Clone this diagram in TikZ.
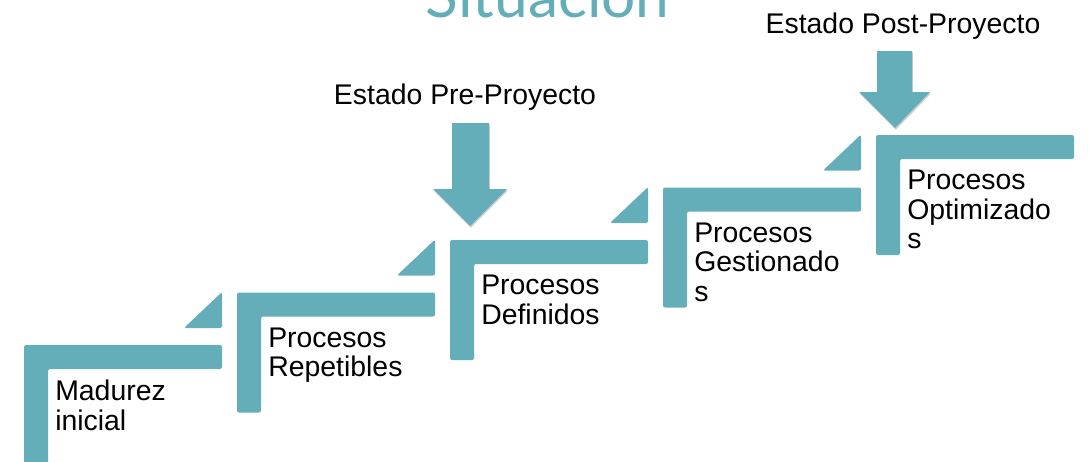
\documentclass[tikz,border=0pt]{standalone}
\usepackage{fontspec}
\setmainfont{Liberation Sans}
\newfontfamily\titlefont{Lato}
\usetikzlibrary{shadows}
\definecolor{stairteal}{RGB}{99, 174, 185}
\definecolor{shadowgray}{RGB}{90, 90, 90}

\begin{document}
\begin{tikzpicture}[x=0.025cm, y=-0.025cm,
        stair/.style={fill=stairteal, rounded corners=1.5pt},
        pointer/.style={fill=stairteal, drop shadow={shadow xshift=0.6pt, shadow yshift=-1.2pt, opacity=0.3, fill=shadowgray}},
        steplabel/.style={anchor=north west, inner sep=0pt, align=left, font=\fontsize{20.2}{21}\selectfont},
        statelabel/.style={anchor=base, inner sep=0pt, font=\fontsize{20.2}{21}\selectfont}]
            \useasboundingbox (0,0) rectangle (1091,461);
            \node[anchor=base, inner sep=0pt, text=stairteal, font=\titlefont\fontsize{43}{46}\selectfont] (titulo) at (547.5,17) {Situación};

            \fill[stair] ( 24,465.0) -- ( 24,345.0) -- ( 222,345.0) -- ( 222,369.0) -- ( 48,369.0) -- ( 48,465.0) -- cycle;
            \fill[stair] (237,412.5) -- (237,292.5) -- ( 435,292.5) -- ( 435,316.5) -- (261,316.5) -- (261,412.5) -- cycle;
            \fill[stair] (450,360.0) -- (450,240.0) -- ( 648,240.0) -- ( 648,264.0) -- (474,264.0) -- (474,360.0) -- cycle;
            \fill[stair] (663,307.5) -- (663,187.5) -- ( 861,187.5) -- ( 861,211.5) -- (687,211.5) -- (687,307.5) -- cycle;
            \fill[stair] (876,255.0) -- (876,135.0) -- (1074,135.0) -- (1074,159.0) -- (900,159.0) -- (900,255.0) -- cycle;

            \fill[stair] (184,328.0) -- (222,292.0) -- (222,328.0) -- cycle;
            \fill[stair] (397,275.5) -- (435,239.5) -- (435,275.5) -- cycle;
            \fill[stair] (610,223.0) -- (648,187.0) -- (648,223.0) -- cycle;
            \fill[stair] (823,170.5) -- (861,134.5) -- (861,170.5) -- cycle;

            \node[steplabel] (madurez)     at ( 55,380.0) {Madurez\\inicial};
            \node[steplabel] (repetibles)  at (268,327.5) {Procesos\\Repetibles};
            \node[steplabel] (definidos)   at (481,275.0) {Procesos\\Definidos};
            \node[steplabel] (gestionados) at (694,222.5) {Procesos\\Gestionado\\s};
            \node[steplabel] (optimizados) at (907,170.0) {Procesos\\Optimizado\\s};

            \fill[pointer] (452,123) -- (489,123) -- (489,189) -- (507,189) -- (470,226) -- (433,189) -- (452,189) -- cycle;
            \fill[pointer] (877, 51) -- (912, 51) -- (912, 92) -- (930, 92) -- (895,128) -- (859, 92) -- (877, 92) -- cycle;

            \node[statelabel] (preproyecto)  at (465,104) {Estado Pre-Proyecto};
            \node[statelabel] (postproyecto) at (903, 33) {Estado Post-Proyecto};
        \end{tikzpicture}
\end{document}
